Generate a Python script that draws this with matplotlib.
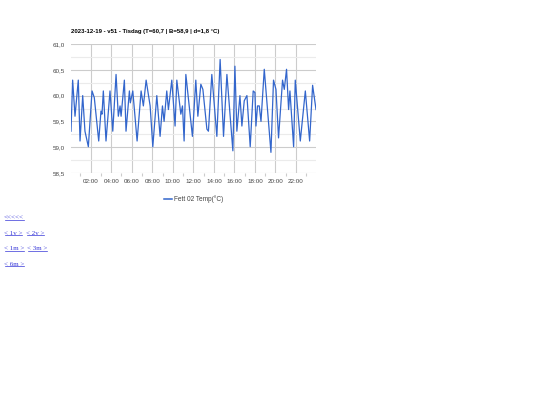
import matplotlib
matplotlib.use("Agg")
import matplotlib.pyplot as plt
from matplotlib.lines import Line2D
from matplotlib.ticker import FixedLocator, FuncFormatter

W, H = 540, 405

title = "2023-12-19 - v51 - Tisdag (T=60,7 | B=58,9 | d=1,8 °C)"
series_name = "Fett 02 Temp(°C)"

hours = [0.08, 0.24, 0.47, 0.79, 0.96, 1.22, 1.44, 1.77, 2.13, 2.35,
         2.78, 3.00, 3.10, 3.23, 3.49, 3.88, 4.15, 4.47, 4.69, 4.86,
         4.96, 5.28, 5.44, 5.77, 5.86, 6.10, 6.52, 6.91, 7.13, 7.40,
         7.79, 8.05, 8.44, 8.76, 8.99, 9.15, 9.41, 9.57, 9.90, 10.22,
         10.39, 10.78, 10.94, 11.10, 11.27, 11.91, 12.24, 12.44, 12.73, 12.93,
         13.32, 13.47, 13.80, 14.29, 14.61, 14.94, 15.27, 15.85, 16.05, 16.24,
         16.54, 16.73, 16.96, 17.22, 17.54, 17.83, 18.00, 18.10, 18.25, 18.42,
         18.59, 18.91, 19.56, 19.81, 20.05, 20.30, 20.69, 20.86, 21.08, 21.28,
         21.41, 21.77, 21.93, 22.42, 22.91, 23.33, 23.62, 23.95]
temps = [59.31, 60.30, 59.60, 60.30, 59.12, 60.00, 59.31, 59.01, 60.09, 59.96,
         59.12, 59.70, 59.64, 60.09, 59.12, 60.09, 59.31, 60.41, 59.60, 59.80,
         59.60, 60.30, 59.31, 60.09, 59.86, 60.09, 59.12, 60.09, 59.80, 60.30,
         59.80, 59.01, 60.00, 59.21, 59.80, 59.50, 60.09, 59.73, 60.30, 59.41,
         60.30, 59.64, 59.80, 59.12, 60.41, 59.21, 60.30, 59.60, 60.22, 60.12,
         59.35, 59.31, 60.41, 59.21, 60.70, 59.21, 60.41, 58.93, 60.57, 59.31,
         60.00, 59.41, 59.90, 60.00, 59.01, 60.09, 60.06, 59.41, 59.80, 59.80,
         59.50, 60.51, 58.90, 60.30, 60.12, 59.18, 60.30, 60.12, 60.51, 59.73,
         60.09, 59.01, 60.30, 59.12, 60.09, 59.12, 60.20, 59.73]

y_major = [58.5, 59.0, 59.5, 60.0, 60.5, 61.0]
y_minor = [58.75, 59.25, 59.75, 60.25, 60.75]
x_major = [2, 4, 6, 8, 10, 12, 14, 16, 18, 20, 22]
x_minor = [1, 3, 5, 7, 9, 11, 13, 15, 17, 19, 21, 23]

# navigation links: (text, x px, y px centre)
links = [("<<<<<", 4, 218),
         ("< 1v >", 4, 234), ("< 2v >", 26, 234),
         ("< 1m >", 4, 249), ("< 3m >", 27, 249),
         ("< 6m >", 4, 264)]

LINE = "#3366cc"
TXT = "#444444"
LINK = "#3535d8"

fig = plt.figure(figsize=(W / 100, H / 100), dpi=100)
fig.patch.set_facecolor("white")

def fx(px):
    return px / W

def fy(py):
    return 1 - py / H

ax = fig.add_axes([fx(71), fy(173), fx(316) - fx(71), fy(44) - fy(173)])
ax.plot(hours, temps, color=LINE, lw=0.9, zorder=3)
ax.set_xlim(hours[0], hours[-1])
ax.set_ylim(58.5, 61.0)

for s in ax.spines.values():
    s.set_visible(False)

ax.yaxis.set_major_locator(FixedLocator(y_major))
ax.yaxis.set_minor_locator(FixedLocator(y_minor))
ax.xaxis.set_major_locator(FixedLocator(x_major))
ax.xaxis.set_minor_locator(FixedLocator(x_minor))
ax.yaxis.set_major_formatter(FuncFormatter(lambda v, p: f"{v:.1f}".replace(".", ",")))
ax.xaxis.set_major_formatter(FuncFormatter(lambda v, p: f"{int(v):02d}:00"))

ax.grid(True, which="major", color="#cccccc", lw=0.8, zorder=0)
ax.grid(True, which="minor", axis="y", color="#ebebeb", lw=0.8, zorder=0)
ax.tick_params(axis="both", which="major", length=0, labelsize=4.5,
               labelcolor=TXT, labelfontfamily="Liberation Sans")
ax.tick_params(axis="y", which="major", pad=4.3)
ax.tick_params(axis="x", which="major", pad=4)
ax.tick_params(axis="x", which="minor", length=2.5, color="#cccccc", width=0.8)
ax.tick_params(axis="y", which="minor", length=0)

fig.text(fx(71), fy(31), title, fontsize=4.3, weight="bold", color="#000000",
         family="Liberation Sans", va="center", ha="left")

# legend
fig.add_artist(Line2D([fx(163.5), fx(171.5)], [fy(199), fy(199)], color=LINE, lw=1.1))
fig.text(fx(174), fy(199), series_name, fontsize=4.7, color=TXT,
         family="Liberation Sans", va="center", ha="left")

texts = []
for label, px, py in links:
    t = fig.text(fx(px), fy(py), label, fontsize=5.0, color=LINK,
                 family="Liberation Serif", va="center", ha="left")
    texts.append(t)

fig.canvas.draw()
r = fig.canvas.get_renderer()
for t in texts:
    bb = t.get_window_extent(r)
    yl = bb.y0 + 1.0
    fig.add_artist(Line2D([(bb.x0 + 0.5) / W, (bb.x1 - 0.5) / W], [yl / H, yl / H],
                          color=LINK, lw=0.5))

fig.savefig("out.png", dpi=100, facecolor="white")
